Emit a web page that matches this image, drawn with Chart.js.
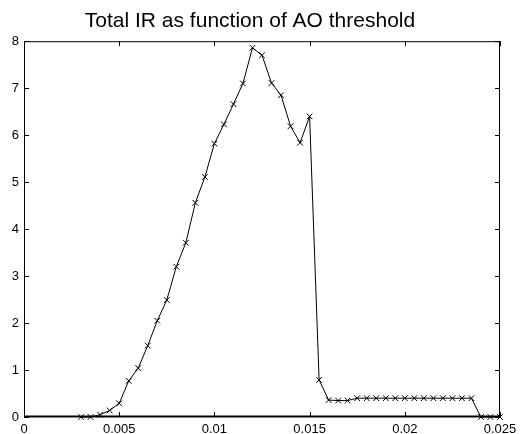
<!DOCTYPE html>
<html>
<head>
<meta charset="utf-8">
<script src="https://cdn.jsdelivr.net/npm/chart.js@4/dist/chart.umd.min.js"></script>
<style>
html,body{margin:0;padding:0;background:#fff;}
canvas{display:block;}
</style>
</head>
<body>
<canvas id="c" width="522" height="434"></canvas>
<script>
const titleText = 'Total IR as function of AO threshold';
const xValues = [0.003,0.0035,0.004,0.0045,0.005,0.0055,0.006,0.0065,0.007,0.0075,0.008,0.0085,0.009,0.0095,0.01,0.0105,0.011,0.0115,0.012,0.0125,0.013,0.0135,0.014,0.0145,0.015,0.0155,0.016,0.0165,0.017,0.0175,0.018,0.0185,0.019,0.0195,0.02,0.0205,0.021,0.0215,0.022,0.0225,0.023,0.0235,0.024,0.0245,0.025];
const irValues = [0,0,0.05,0.14,0.29,0.77,1.04,1.52,2.05,2.49,3.2,3.71,4.56,5.11,5.82,6.23,6.66,7.1,7.86,7.7,7.11,6.85,6.19,5.84,6.4,0.79,0.36,0.35,0.35,0.4,0.4,0.4,0.4,0.4,0.4,0.4,0.4,0.4,0.4,0.4,0.4,0.4,0,0,0];
const xTicks = [0,0.005,0.01,0.015,0.02,0.025];
const xTickLabels = ['0','0.005','0.01','0.015','0.02','0.025'];
const yTicks = [0,1,2,3,4,5,6,7,8];
const yTickLabels = ['0','1','2','3','4','5','6','7','8'];

const FONT = '"Liberation Sans", Arial, sans-serif';

const framePlugin = {
  id: 'frame',
  afterDatasetsDraw(chart) {
    const ctx = chart.ctx;
    const a = chart.chartArea;
    const xs = chart.scales.x, ys = chart.scales.y;
    ctx.save();
    ctx.strokeStyle = '#000';
    ctx.lineWidth = 1;
    ctx.beginPath();
    ctx.moveTo(a.left + 0.5, a.bottom);
    ctx.lineTo(a.left + 0.5, a.top + 0.5);
    ctx.lineTo(a.right - 0.5, a.top + 0.5);
    ctx.lineTo(a.right - 0.5, a.bottom);
    ctx.stroke();
    ctx.lineWidth = 2;
    ctx.beginPath();
    ctx.moveTo(a.left, a.bottom - 0.5);
    ctx.lineTo(a.right, a.bottom - 0.5);
    ctx.stroke();
    const tl = 5;
    ctx.lineWidth = 1;
    ctx.beginPath();
    xTicks.forEach(v => {
      const px = Math.round(xs.getPixelForValue(v)) + 0.5;
      ctx.moveTo(px, a.bottom); ctx.lineTo(px, a.bottom - tl);
      ctx.moveTo(px, a.top); ctx.lineTo(px, a.top + tl);
    });
    yTicks.forEach(v => {
      const py = Math.round(ys.getPixelForValue(v)) + 0.5;
      ctx.moveTo(a.left, py); ctx.lineTo(a.left + tl, py);
      ctx.moveTo(a.right, py); ctx.lineTo(a.right - tl, py);
    });
    ctx.stroke();
    ctx.restore();
  }
};

new Chart(document.getElementById('c'), {
  type: 'line',
  data: {
    datasets: [{
      data: xValues.map((x, i) => ({x: x, y: irValues[i]})),
      borderColor: '#000',
      borderWidth: 1,
      pointStyle: 'crossRot',
      pointRadius: 4,
      pointBorderColor: '#000',
      pointBorderWidth: 1,
      pointBackgroundColor: '#000',
      tension: 0,
      fill: false,
      clip: false
    }]
  },
  options: {
    responsive: false,
    animation: false,
    devicePixelRatio: 1,
    layout: {padding: {left: 0, right: 22, top: 0, bottom: 0}},
    plugins: {
      legend: {display: false},
      tooltip: {enabled: false},
      title: {
        display: true,
        text: titleText,
        color: '#000',
        font: {family: FONT, size: 21, weight: 'normal'},
        padding: {top: 9, bottom: 7}
      }
    },
    scales: {
      x: {
        type: 'linear',
        min: 0, max: 0.025,
        grid: {display: false, drawTicks: false},
        border: {display: false},
        afterFit(s) { s.height = 17; },
        afterBuildTicks(s) { s.ticks = xTicks.map(v => ({value: v})); },
        ticks: {
          color: '#000',
          padding: 5,
          maxRotation: 0,
          autoSkip: false,
          font: {family: FONT, size: 13},
          callback: (v) => xTickLabels[xTicks.indexOf(v)]
        }
      },
      y: {
        type: 'linear',
        min: 0, max: 8,
        grid: {display: false, drawTicks: false},
        border: {display: false},
        afterFit(s) { s.width = 24; },
        afterBuildTicks(s) { s.ticks = yTicks.map(v => ({value: v})); },
        ticks: {
          color: '#000',
          padding: 5,
          autoSkip: false,
          font: {family: FONT, size: 13},
          callback: (v) => yTickLabels[yTicks.indexOf(v)]
        }
      }
    }
  },
  plugins: [framePlugin]
});
</script>
</body>
</html>
